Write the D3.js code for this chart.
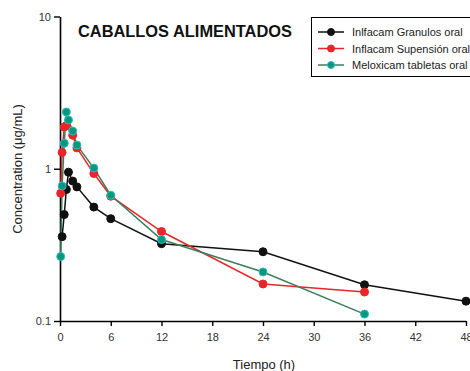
<!DOCTYPE html>
<html><head><meta charset="utf-8">
<script src="https://cdn.jsdelivr.net/npm/d3@7"></script>
<style>body{margin:0;background:#fff}svg{display:block}text{font-family:"Liberation Sans",Arial,sans-serif}</style>
</head><body>
<svg id="c" width="470" height="371"></svg>
<script>
const title = "CABALLOS ALIMENTADOS";
const xLabel = "Tiempo (h)";
const yLabel = "Concentration (\u03bcg/mL)";
const xTicks = [0, 6, 12, 18, 24, 30, 36, 42, 48];
const yTicks = [0.1, 1, 10];
const yTickLabels = ["0.1", "1", "10"];
const seriesNames = ["Inlfacam Granulos oral", "Inflacam Supensión oral", "Meloxicam tabletas oral"];
const granulosT = [0.25, 0.5, 0.75, 1, 1.5, 2, 4, 6, 12, 24, 36, 48];
const granulosC = [0.358, 0.50, 0.73, 0.95, 0.83, 0.76, 0.56, 0.47, 0.322, 0.285, 0.173, 0.135];
const suspensionT = [0.083, 0.25, 0.5, 0.75, 1.5, 2, 4, 6, 12, 24, 36];
const suspensionC = [0.69, 1.28, 1.88, 1.92, 1.66, 1.37, 0.93, 0.66, 0.387, 0.175, 0.155];
const tabletasT = [0.083, 0.25, 0.5, 0.75, 1, 1.5, 2, 4, 6, 12, 24, 36];
const tabletasC = [0.265, 0.77, 1.47, 2.36, 2.09, 1.77, 1.43, 1.01, 0.67, 0.343, 0.21, 0.111];

const series = [
  {name: seriesNames[0], t: granulosT, c: granulosC, line: "#111", fill: "#111", stroke: "#111"},
  {name: seriesNames[1], t: suspensionT, c: suspensionC, line: "#e8262a", fill: "#e8262a", stroke: "#e8262a"},
  {name: seriesNames[2], t: tabletasT, c: tabletasC, line: "#3d7d5a", fill: "#009a78", stroke: "#33b8d0"}
];

const svg = d3.select("#c");
const x = d3.scaleLinear().domain([0, 48]).range([60, 466]);
const y = d3.scaleLog().domain([0.1, 10]).range([321, 16.5]);

// axes
const xAxis = d3.axisBottom(x).tickValues(xTicks).tickSize(5).tickSizeOuter(0).tickPadding(6);
const gx = svg.append("g").attr("transform", "translate(0,321)").call(xAxis);
const yAxis = d3.axisLeft(y).tickValues(yTicks).tickFormat((d, i) => yTickLabels[i]).tickSize(6).tickSizeOuter(0).tickPadding(3);
const gy = svg.append("g").attr("transform", "translate(60,0)").call(yAxis);
[gx, gy].forEach(g => {
  g.selectAll("path.domain").attr("stroke", "#000").attr("stroke-width", 1.6);
  g.selectAll(".tick line").attr("stroke", "#000").attr("stroke-width", 1.4);
  g.selectAll(".tick text").attr("font-size", 11).attr("fill", "#333").attr("font-family", "Liberation Sans, Arial, sans-serif");
});
gx.selectAll(".tick text").attr("dy", "0.85em");

// axis labels
svg.append("text").attr("x", 264).attr("y", 369).attr("text-anchor", "middle")
  .attr("font-size", 13).attr("fill", "#222").text(xLabel);
svg.append("text").attr("transform", "translate(22,169) rotate(-90)").attr("text-anchor", "middle")
  .attr("font-size", 13).attr("fill", "#222").text(yLabel);

// title
svg.append("text").attr("x", 78).attr("y", 37).attr("font-size", 16.4).attr("font-weight", "bold")
  .attr("fill", "#111").text(title);

// data
const line = d3.line().x(d => x(d[0])).y(d => y(d[1]));
series.forEach(s => {
  const pts = s.t.map((t, i) => [t, s.c[i]]);
  svg.append("path").datum(pts).attr("d", line).attr("fill", "none")
    .attr("stroke", s.line).attr("stroke-width", 1.5);
});
series.forEach(s => {
  const pts = s.t.map((t, i) => [t, s.c[i]]);
  svg.append("g").selectAll("circle").data(pts).join("circle")
    .attr("cx", d => x(d[0])).attr("cy", d => y(d[1])).attr("r", 4)
    .attr("fill", s.fill).attr("stroke", s.stroke).attr("stroke-width", 1);
});

// legend
const lg = svg.append("g");
lg.append("rect").attr("x", 311.5).attr("y", 17.5).attr("width", 170).attr("height", 59)
  .attr("fill", "#fff").attr("stroke", "#000").attr("stroke-width", 1);
series.forEach((s, i) => {
  const yy = 32 + i * 16.5;
  lg.append("line").attr("x1", 318).attr("x2", 344).attr("y1", yy).attr("y2", yy)
    .attr("stroke", s.line).attr("stroke-width", 1.5);
  lg.append("circle").attr("cx", 331).attr("cy", yy).attr("r", 3.5)
    .attr("fill", s.fill).attr("stroke", s.stroke).attr("stroke-width", 1);
  lg.append("text").attr("x", 352).attr("y", yy + 4).attr("font-size", 11).attr("fill", "#222").text(s.name);
});
</script>
</body></html>
